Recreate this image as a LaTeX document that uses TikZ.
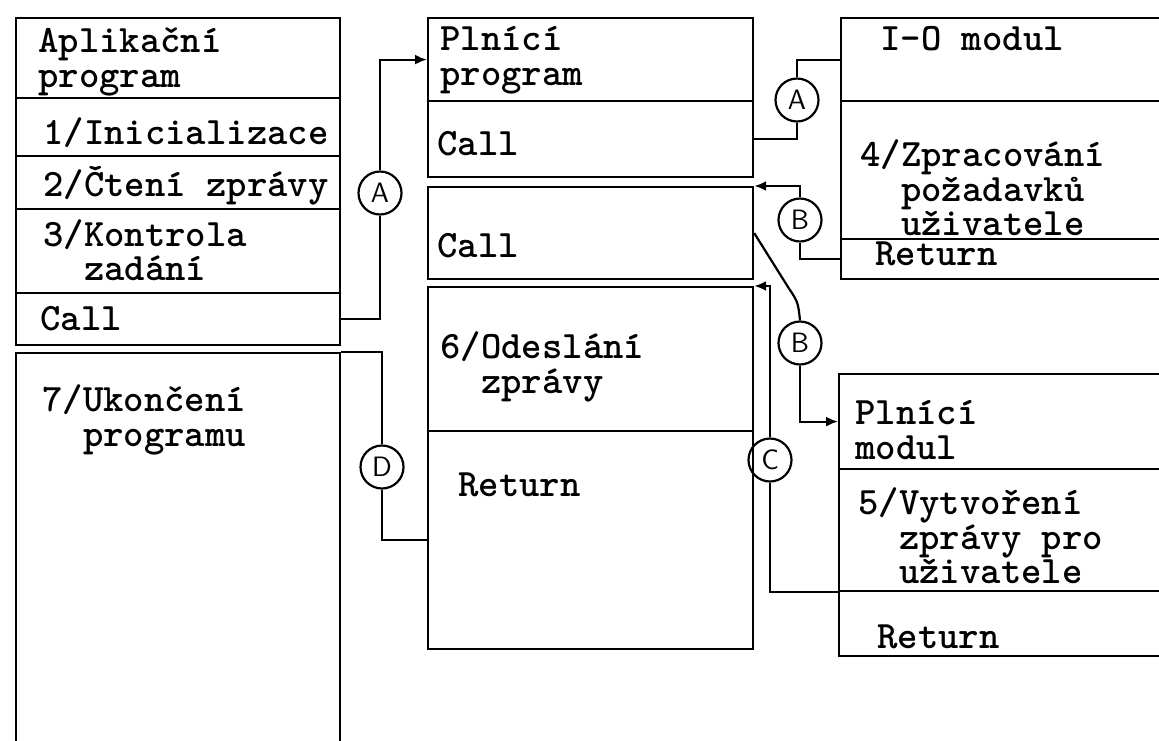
\documentclass[tikz,border=0pt]{standalone}
\usepackage{fontspec}
\usetikzlibrary{arrows.meta}
\tikzset{
  blk/.style 2 args={draw, rectangle, line width=1.1pt, inner sep=0pt,
    anchor=north west, minimum width=#1*0.5pt, minimum height=#2*0.5pt},
  lbl/.style={anchor=west, align=left, inner sep=0pt,
    font=\ttfamily\bfseries\fontsize{19.4}{17.3}\selectfont},
  tag/.style={draw, circle, line width=1.1pt, inner sep=0pt, minimum size=21.5pt,
    font=\sffamily\fontsize{14}{14}\selectfont},
  wire/.style={line width=1.1pt},
  tip/.style={wire, -{Latex[length=6pt,width=5pt]}},
}
\newcommand{\ind}{\phantom{xx}}

\begin{document}
\begin{tikzpicture}[x=0.5pt,y=-0.5pt]
  \clip (0,0) rectangle (1159,740);
  % Aplikacni program
  \node[blk={324}{80}] (aplik) at (15,17) {};
  \node[blk={324}{58}] (init) at (15,97) {};
  \node[blk={324}{53}] (cteni) at (15,155) {};
  \node[blk={324}{84}] (kontr) at (15,208) {};
  \node[blk={324}{52}] (lcall) at (15,292) {};
  \node[blk={324}{420}] (ukon) at (15,352) {};
  \node[lbl] (aplik-t) at (38,62) {Aplikační\\program};
  \node[lbl] (init-t) at (43,133) {1/Inicializace};
  \node[lbl] (cteni-t) at (43,186) {2/Čtení zprávy};
  \node[lbl] (kontr-t) at (43,250) {3/Kontrola\\\ind zadání};
  \node[lbl] (lcall-t) at (40,319) {Call};
  \node[lbl] (ukon-t) at (42,420) {7/Ukončení\\\ind programu};
  % Plnici program
  \node[blk={325}{83}] (plnprog) at (427,17) {};
  \node[blk={325}{76}] (mcall1) at (427,100) {};
  \node[blk={325}{92}] (mcall2) at (427,186) {};
  \node[blk={325}{144}] (odesl) at (427,286) {};
  \node[blk={325}{218}] (mret) at (427,430) {};
  \node[lbl] (plnprog-t) at (440,60) {Plnící\\program};
  \node[lbl] (mcall1-t) at (437,144) {Call};
  \node[lbl] (mcall2-t) at (437,246) {Call};
  \node[lbl] (odesl-t) at (440,367) {6/Odeslání\\\ind zprávy};
  \node[lbl] (mret-t) at (458,485) {Return};
  % I-O modul
  \node[blk={340}{83}] (iomod) at (840,17) {};
  \node[blk={340}{138}] (zprac) at (840,100) {};
  \node[blk={340}{40}] (ioret) at (840,238) {};
  \node[lbl] (iomod-t) at (880,39) {I-O modul};
  \node[lbl] (zprac-t) at (860,188) {4/Zpracování\\\ind požadavků\\\ind uživatele};
  \node[lbl] (ioret-t) at (875,254) {Return};
  % Plnici modul
  \node[blk={342}{95}] (plnmod) at (838,373) {};
  \node[blk={342}{122}] (vytv) at (838,468) {};
  \node[blk={342}{65}] (pret) at (838,590) {};
  \node[lbl] (plnmod-t) at (855,430) {Plnící\\modul};
  \node[lbl] (vytv-t) at (858,536) {5/Vytvoření\\\ind zprávy pro\\\ind uživatele};
  \node[lbl] (pret-t) at (877,637) {Return};
  % spojky
  \node[tag] (cA1) at (380,193) {A};
  \node[tag] (cA2) at (797,100) {A};
  \node[tag] (cB1) at (800,220) {B};
  \node[tag] (cB2) at (800,343) {B};
  \node[tag] (cC) at (770,460) {C};
  \node[tag] (cD) at (382,467) {D};
  \draw[wire] (lcall.east) -| (cA1.south);
  \draw[tip] (cA1.north) |- (plnprog.west);
  \draw[wire] (mcall1.east) -| (cA2.south);
  \draw[wire] (cA2.north) |- (iomod.west);
  \draw[wire] (ioret.west) -| (cB1.south);
  \draw[tip] (cB1.north) |- (mcall2.north east);
  \draw[wire] (mcall2.east) -- (788,287) .. controls (798,302) .. (cB2.north);
  \draw[tip] (cB2.south) |- (plnmod.west);
  \draw[wire] (vytv.south west) -| (cC.south);
  \draw[tip] (cC.north) |- (odesl.north east);
  \draw[wire] (ukon.north east) -| (cD.north);
  \draw[wire] (cD.south) |- (mret.west);
\end{tikzpicture}
\end{document}
